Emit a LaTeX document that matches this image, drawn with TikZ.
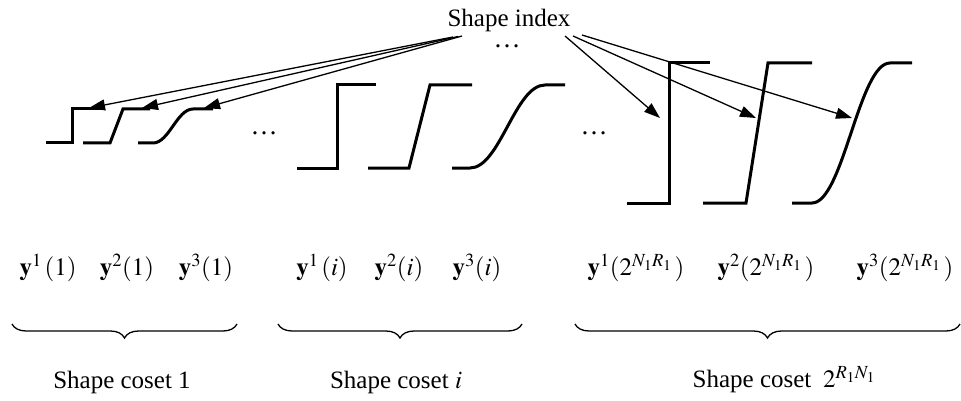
\documentclass[tikz,border=0pt]{standalone}
\usepackage{mathptmx}
\usepackage[no-math]{fontspec}
\setmainfont{Liberation Serif}
\usetikzlibrary{arrows.meta,decorations.pathreplacing}
\tikzset{
  curve/.style={line width=3pt,line join=miter},
  ptr/.style={line width=1.3pt,-{Triangle[length=16pt,width=11pt]}},
  lbl/.style={inner sep=0pt,font=\fontsize{25}{30}\selectfont},
  dts/.style={inner sep=0pt,font=\fontsize{27}{30}\selectfont},
  brc/.style={line width=1.3pt,decorate,decoration={brace,mirror,amplitude=14pt}}
}
\begin{document}
\begin{tikzpicture}[x=1pt,y=-1pt]
\useasboundingbox (0,0) rectangle (961,401);
% title
\node[lbl,anchor=base] (idx) at (509,27) {Shape index};
\node[dts,anchor=base] (dtop) at (507,48) {…};
\node[dts,anchor=base] (d1) at (264,135) {…};
\node[dts,anchor=base] (d2) at (594,135) {…};
% small shapes
\draw[curve] (46,143) -- (72,143) -- (72,109) -- (102,109);
\draw[curve] (83,143) -- (110,143) -- (123,109) -- (150,109);
\draw[curve] (138,143) -- (153,143) .. controls (169,143) and (177,109) .. (193,109) -- (213,109);
% medium shapes
\draw[curve] (297,168) -- (337,168) -- (337,85) -- (376,85);
\draw[curve] (368,168) -- (409,168) -- (430,85) -- (472,85);
\draw[curve] (452,168) -- (470,168) .. controls (500,168) and (515,85) .. (545,85) -- (565,85);
% large shapes
\draw[curve] (627,203) -- (669,203) -- (669,63) -- (710,63);
\draw[curve] (703,203) -- (746,203) -- (768,63) -- (812,63);
\draw[curve] (792,203) -- (812,203) .. controls (843,203) and (859,63) .. (890,63) -- (912,63);
% arrow ends
\coordinate (s1) at (453,37);
\coordinate (s2) at (458,36.5);
\coordinate (s3) at (462,36);
\coordinate (t1) at (89,108);
\coordinate (t2) at (142,108);
\coordinate (t3) at (204,108);
\coordinate (s4) at (565,36);
\coordinate (s5) at (573,36);
\coordinate (s6) at (582,35);
\coordinate (t4) at (660,118);
\coordinate (t5) at (756,118);
\coordinate (t6) at (852,118);
\draw[ptr] (s1) -- (t1);
\draw[ptr] (s2) -- (t2);
\draw[ptr] (s3) -- (t3);
\draw[ptr] (s4) -- (t4);
\draw[ptr] (s5) -- (t5);
\draw[ptr] (s6) -- (t6);
% labels
\node[lbl] (a1) at (48,268) {$\mathbf{y}^1\,(1)$};
\node[lbl] (a2) at (127,268) {$\mathbf{y}^2(1)$};
\node[lbl] (a3) at (206,268) {$\mathbf{y}^3(1)$};
\node[lbl] (b1) at (322,268) {$\mathbf{y}^1\,(i)$};
\node[lbl] (b2) at (399,268) {$\mathbf{y}^2(i)$};
\node[lbl] (b3) at (477,268) {$\mathbf{y}^3(i)$};
\node[lbl] (c1) at (636,268) {$\mathbf{y}^1(2^{N_1R_1}\,)$};
\node[lbl] (c2) at (766,268) {$\mathbf{y}^2(2^{N_1R_1}\,)$};
\node[lbl] (c3) at (905,268) {$\mathbf{y}^3(2^{N_1R_1}\,)$};
% braces
\coordinate (bl1) at (12,324);
\coordinate (br1) at (237,324);
\coordinate (bl2) at (278,324);
\coordinate (br2) at (522,324);
\coordinate (bl3) at (575,324);
\coordinate (br3) at (960,324);
\draw[brc] (bl1) -- (br1);
\draw[brc] (bl2) -- (br2);
\draw[brc] (bl3) -- (br3);
\node[lbl] (g1) at (122,382) {Shape coset 1};
\node[lbl] (g2) at (396,382) {Shape coset $i$};
\node[lbl] (g3) at (784,380) {Shape coset $\;2^{R_1N_1}$};
\end{tikzpicture}
\end{document}
